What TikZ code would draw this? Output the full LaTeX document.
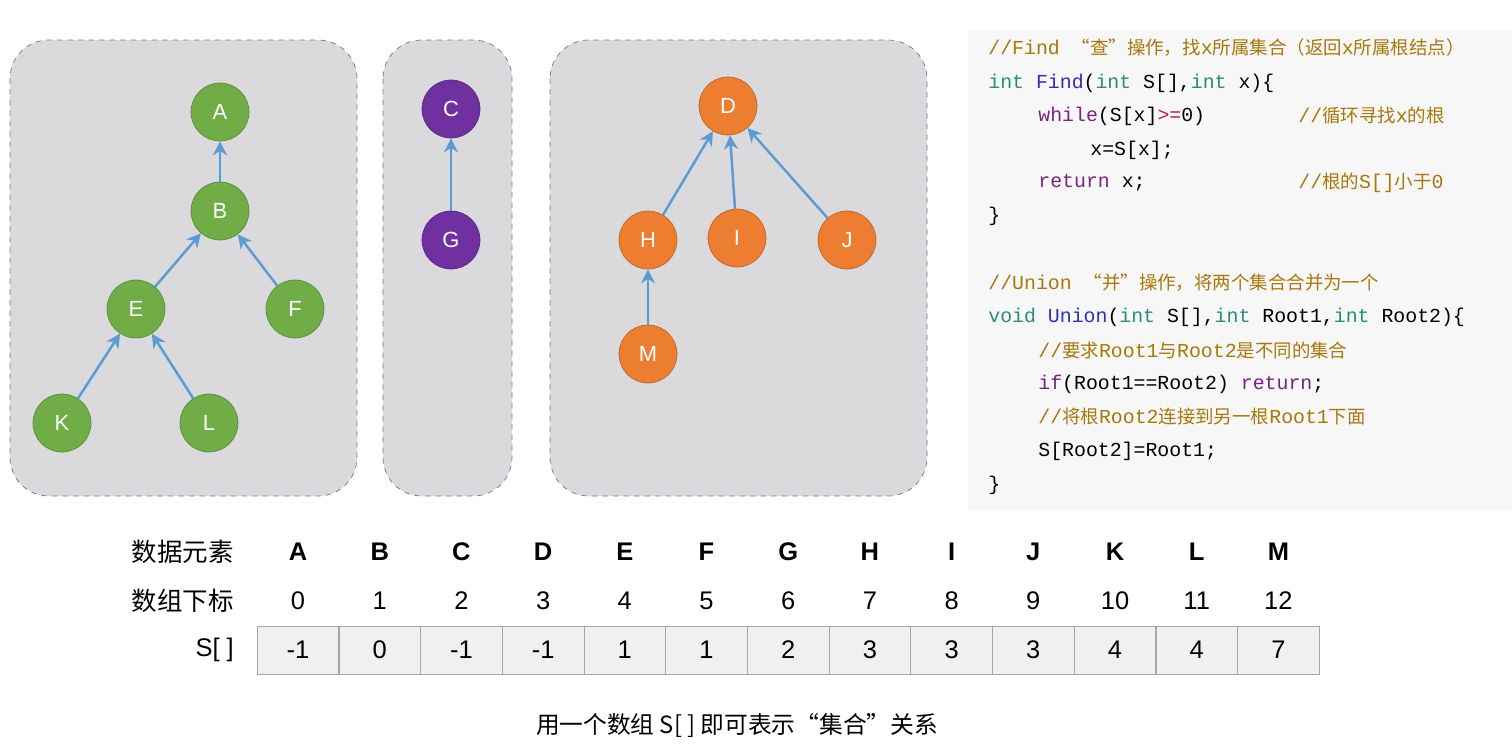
\documentclass[tikz,border=0pt]{standalone}
\usepackage{fontspec}
\setmainfont{Liberation Sans}
\newfontfamily\cjk{Noto Sans CJK SC}
\newfontfamily\codefont{Liberation Mono}
\usetikzlibrary{arrows.meta}
\definecolor{set-grey}{HTML}{DADADD}
\definecolor{set-edge}{HTML}{5F7F8F}
\definecolor{tree-green}{HTML}{70AD47}
\definecolor{tree-purple}{HTML}{7030A0}
\definecolor{tree-orange}{HTML}{ED7D31}
\definecolor{link-blue}{HTML}{5B9BD5}
\definecolor{c-comment}{HTML}{A8780C}
\definecolor{c-type}{HTML}{2A8C7A}
\definecolor{c-func}{HTML}{2F2FB8}
\definecolor{c-key}{HTML}{7B2382}
\definecolor{c-op}{HTML}{B5203A}
\tikzset{setbox/.style = {draw=set-edge, dashed, fill=set-grey, rounded corners=22pt}}
\tikzset{elem/.style = {circle, draw=#1!80!black, fill=#1, minimum size=1.16cm, inner sep=0pt, text=white, font=\fontsize{12.5}{14}\selectfont}}
\tikzset{arr/.style = {draw=link-blue, line width=1.4pt, -{Stealth[length=8pt,width=8pt]}}}
\tikzset{code/.style = {anchor=west, inner sep=0pt, font=\codefont\fontsize{11.3}{13}\selectfont}}
\tikzset{cell/.style = {draw=gray!70, fill=gray!12, minimum width=1.632cm, minimum height=0.96cm, inner sep=0pt}}
\tikzset{tab/.style = {font=\fontsize{14.5}{16}\selectfont}}
\newcommand{\zh}[1]{{\cjk\fontsize{10.5}{13}\selectfont #1}}
\begin{document}
\begin{tikzpicture}[x=0.02cm, y=-0.02cm]
\useasboundingbox (0,0) rectangle (1512,744);

% the three sets
\draw[setbox] (10,40) rectangle (357,496);
\draw[setbox] (383,40) rectangle (512,496);
\draw[setbox] (550,40) rectangle (927,496);

\node[elem=tree-green] (A) at (220,112) {A};
\node[elem=tree-green] (B) at (220,211) {B};
\node[elem=tree-green] (E) at (136,309) {E};
\node[elem=tree-green] (F) at (295,309) {F};
\node[elem=tree-green] (K) at (62,423) {K};
\node[elem=tree-green] (L) at (209,423) {L};
\node[elem=tree-purple] (C) at (451,109) {C};
\node[elem=tree-purple] (G) at (451,240) {G};
\node[elem=tree-orange] (D) at (728,106) {D};
\node[elem=tree-orange] (H) at (648,240) {H};
\node[elem=tree-orange] (I) at (737,238) {I};
\node[elem=tree-orange] (J) at (847,240) {J};
\node[elem=tree-orange] (M) at (648,354) {M};

\draw[arr] (B) -- (A);
\draw[arr] (E) -- (B);
\draw[arr] (F) -- (B);
\draw[arr] (K) -- (E);
\draw[arr] (L) -- (E);
\draw[arr] (G) -- (C);
\draw[arr] (H) -- (D);
\draw[arr] (I) -- (D);
\draw[arr] (J) -- (D);
\draw[arr] (M) -- (H);

% code panel
\fill[gray!6] (968,30) rectangle (1512,510);
\node[code, text=c-comment] (l1) at (988,48) {//Find \zh{“查”操作，找}x\zh{所属集合（返回}x\zh{所属根结点）}};
\node[code] (l2) at (988,83) {\textcolor{c-type}{int} \textcolor{c-func}{Find}(\textcolor{c-type}{int} S[],\textcolor{c-type}{int} x)\{};
\node[code] (l3) at (1038,116) {\textcolor{c-key}{while}(S[x]\textcolor{c-op}{>=}0)};
\node[code, text=c-comment] (l3c) at (1298,116) {//\zh{循环寻找}x\zh{的根}};
\node[code] (l4) at (1090,150) {x=S[x];};
\node[code] (l5) at (1038,183) {\textcolor{c-key}{return} x;};
\node[code, text=c-comment] (l5c) at (1298,183) {//\zh{根的}S[]\zh{小于}0};
\node[code] (l6) at (988,216) {\}};
\node[code, text=c-comment] (l7) at (988,283) {//Union \zh{“并”操作，将两个集合合并为一个}};
\node[code] (l8) at (988,317) {\textcolor{c-type}{void} \textcolor{c-func}{Union}(\textcolor{c-type}{int} S[],\textcolor{c-type}{int} Root1,\textcolor{c-type}{int} Root2)\{};
\node[code, text=c-comment] (l9) at (1038,350) {//\zh{要求}Root1\zh{与}Root2\zh{是不同的集合}};
\node[code] (l10) at (1038,384) {\textcolor{c-key}{if}(Root1==Root2)  \textcolor{c-key}{return};};
\node[code, text=c-comment] (l11) at (1038,417) {//\zh{将根}Root2\zh{连接到另一根}Root1\zh{下面}};
\node[code] (l12) at (1038,451) {S[Root2]=Root1;};
\node[code] (l13) at (988,485) {\}};

% array table
\node[tab, anchor=east] (h1) at (240,552) {\cjk 数据元素};
\node[tab, anchor=east] (h2) at (240,601) {\cjk 数组下标};
\node[tab, anchor=east] (h3) at (240,650) {S[ ]};
\foreach \name/\val [count=\i from 0] in {A/-1,B/0,C/-1,D/-1,E/1,F/1,G/2,H/3,I/3,J/3,K/4,L/4,M/7} {
  \node[tab, font=\bfseries\fontsize{14.5}{16}\selectfont] (n\i) at (298+81.7*\i,552) {\name};
  \node[tab] (x\i) at (298+81.7*\i,601) {\i};
  \node[cell, tab] (s\i) at (298+81.7*\i,650) {\val};
}

\node[font=\cjk\fontsize{13.5}{16}\selectfont] (cap) at (737,725) {用一个数组 S[ ] 即可表示“集合”关系};
\end{tikzpicture}
\end{document}
